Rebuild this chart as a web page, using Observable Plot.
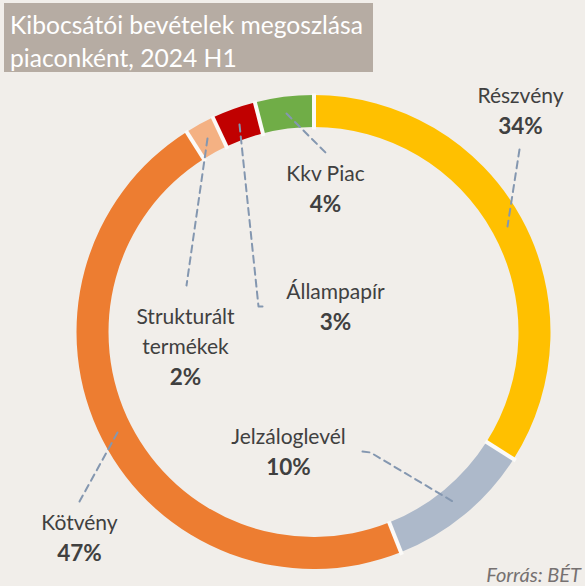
<!DOCTYPE html>
<html>
<head>
<meta charset="utf-8">
<script src="https://cdn.jsdelivr.net/npm/d3@7"></script>
<script src="https://cdn.jsdelivr.net/npm/@observablehq/plot@0.6"></script>
<style>
  html, body { margin: 0; padding: 0; background: #f1eeea; }
  #wrap { width: 585px; height: 586px; position: relative; overflow: hidden; }
  #title { position: absolute; left: 4px; top: 3px; width: 369px; height: 69px; background: #b6aca3;
           color: #fff; font-family: Lato, sans-serif; font-size: 22.8px; line-height: 33px; box-sizing: border-box; padding: 5px 0 0 6px; white-space: nowrap; }
  #chart { position: absolute; left: 0; top: 72px; }
  #source { position: absolute; right: 4px; top: 562px; font-family: Lato, sans-serif; font-style: italic; font-size: 20px; line-height: 24px; color: #767171; }
</style>
</head>
<body>
<div id="wrap">
  <div id="title"><span id="t1">Kibocsátói bevételek megoszlása</span><br><span>piaconként, 2024 H1</span></div>
  <div id="chart"></div>
  <div id="source">Forrás: BÉT</div>
</div>
<script>
// ---- data ----
const categories = ["Részvény", "Jelzáloglevél", "Kötvény", "Strukturált termékek", "Állampapír", "Kkv Piac"];
const values = [34, 10, 47, 2, 3, 4];
const colors = ["#FFC000", "#ADB9CA", "#ED7D31", "#F4B183", "#C00000", "#70AD47"];
// label lines (text split per line) and anchor points (page coordinates, baseline of first line)
const labelLines = [["Részvény"], ["Jelzáloglevél"], ["Kötvény"], ["Strukturált", "termékek"], ["Állampapír"], ["Kkv Piac"]];
const labelX = [520, 288, 79, 185, 335, 325];
const labelY = [102, 443, 529, 323, 298, 180];
// leader lines (page coordinates)
const leaders = [
  [[519,149],[507,226]],
  [[362,451],[370,452],[454,502]],
  [[117,432],[79,501]],
  [[207,138],[186,285]],
  [[239,124],[258,306],[265,306]],
  [[286,113],[326,153]]
];

// fit title first line to ~353px as in the reference
(function () {
  const title = document.getElementById("title");
  const t1 = document.getElementById("t1");
  const w = t1.getBoundingClientRect().width;
  if (w > 0) {
    const fs = Math.max(18, Math.min(26, 22.8 * 353 / w));
    title.style.fontSize = fs + "px";
  }
})();

// ---- geometry ----
const W = 585, H = 514, OFF = 72;
const CX = 313.5, CY = 332 - OFF, RO = 237, RI = 205;

const pie = d3.pie().sort(null).value(d => d.value);
const slices = pie(categories.map((c, i) => ({name: c, value: values[i]})));

const nameRows = [];
const pctRows = [];
categories.forEach((c, i) => {
  labelLines[i].forEach((t, j) => nameRows.push({t, x: labelX[i], y: labelY[i] + j * 30 - OFF}));
  pctRows.push({t: values[i] + "%", x: labelX[i], y: labelY[i] + labelLines[i].length * 30 + 1 - OFF});
});
const leaderRows = leaders.flatMap((pts, i) => pts.map(([x, y]) => ({k: i, x, y: y - OFF})));
const sepRows = slices.map(s => ({
  x1: CX + (RI - 2) * Math.sin(s.startAngle), y1: CY - (RI - 2) * Math.cos(s.startAngle),
  x2: CX + (RO + 2) * Math.sin(s.startAngle), y2: CY - (RO + 2) * Math.cos(s.startAngle)
}));

function donut(index, scales) {
  const g = d3.create("svg:g");
  const cx = scales.x(CX), cy = scales.y(CY);
  const ro = scales.x(CX + RO) - cx, ri = scales.x(CX + RI) - cx;
  const arc = d3.arc().innerRadius(ri).outerRadius(ro);
  g.attr("transform", `translate(${cx},${cy})`)
    .selectAll("path").data(slices).join("path")
    .attr("d", arc)
    .attr("fill", d => scales.color(d.data.name));
  return g.node();
}

const plot = Plot.plot({
  width: W, height: H, margin: 0,
  style: {background: "transparent", overflow: "visible"},
  x: {domain: [0, W], range: [0, W], axis: null},
  y: {domain: [0, H], range: [0, H], axis: null},
  color: {domain: categories, range: colors},
  marks: [
    donut,
    Plot.link(sepRows, {x1: "x1", y1: "y1", x2: "x2", y2: "y2", stroke: "#fbfaf8", strokeWidth: 4}),
    Plot.line(leaderRows, {x: "x", y: "y", z: "k", stroke: "#8497B0", strokeWidth: 2, strokeDasharray: "7,5", curve: "linear"}),
    Plot.text(nameRows, {x: "x", y: "y", text: "t", lineAnchor: "bottom", fontFamily: "Lato, sans-serif", fontSize: 21, fill: "#404040"}),
    Plot.text(pctRows, {x: "x", y: "y", text: "t", lineAnchor: "bottom", fontFamily: "Lato, sans-serif", fontSize: 22.5, fontWeight: "bold", fill: "#404040"})
  ]
});
document.getElementById("chart").appendChild(plot);
</script>
</body>
</html>
